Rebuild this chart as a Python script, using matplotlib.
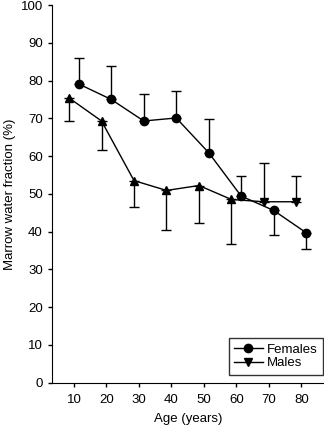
import numpy as np
import matplotlib.pyplot as plt

plt.rcParams['font.family'] = ['Liberation Sans', 'DejaVu Sans']

# data
age_f = [11.5, 21.5, 31.5, 41.5, 51.5, 61.5, 71.5, 81.5]
water_f = [79.1, 75.0, 69.3, 70.1, 60.9, 49.4, 45.6, 39.7]
err_f_lo = [0, 0, 0, 0, 0, 0, 6.4, 4.4]
err_f_hi = [7.0, 9.0, 7.1, 7.2, 8.9, 5.2, 0, 0]

age_m = [8.5, 18.5, 28.5, 38.5, 48.5, 58.5, 68.5, 78.5]
water_m = [75.4, 69.3, 53.5, 50.9, 52.2, 48.5, 47.9, 47.9]
err_m_lo = [6.1, 7.8, 7.1, 10.6, 10.0, 11.9, 0, 0]
err_m_hi = [0, 0, 0, 0, 0, 0, 10.2, 6.9]

fig = plt.figure(figsize=(3.24, 4.26), dpi=100)
ax = fig.add_axes([0.160, 0.102, 0.84, 0.886])

age_m = np.array(age_m)
water_m = np.array(water_m)

# error bars (one-sided)
ax.errorbar(age_f, water_f, yerr=[err_f_lo, err_f_hi], fmt='none', ecolor='black',
            elinewidth=1, capsize=3.5, capthick=1)
ax.errorbar(age_m, water_m, yerr=[err_m_lo, err_m_hi], fmt='none', ecolor='black',
            elinewidth=1, capsize=3.5, capthick=1)

ax.plot(age_f, water_f, color='black', lw=1, marker='o', ms=6, label='Females')
ax.plot(age_m, water_m, color='black', lw=1)
ax.plot(age_m[:6], water_m[:6], ls='none', color='black', marker='^', ms=6)
ax.plot(age_m[6:], water_m[6:], ls='none', color='black', marker='v', ms=6)
ax.plot([], [], color='black', lw=1, marker='v', ms=6, label='Males')

ax.set_xlim(3.2, 87)
ax.set_ylim(0, 100)
ax.set_xticks(range(10, 90, 10))
ax.set_yticks(range(0, 110, 10))
ax.spines['top'].set_visible(False)
ax.spines['right'].set_visible(False)
ax.tick_params(labelsize=9.5, length=3, width=1)
ax.tick_params(axis='x', pad=5)
ax.set_xlabel('Age (years)', fontsize=9.5, labelpad=5)
ax.set_ylabel('Marrow water fraction (%)', fontsize=9.5, labelpad=3)

leg = ax.legend(loc='lower right', bbox_to_anchor=(0.996, 0.021), fontsize=9.5,
                frameon=True, fancybox=False, edgecolor='black', borderpad=0.4,
                labelspacing=0.1, handlelength=2.2, handletextpad=0.3,
                borderaxespad=0)
leg.get_frame().set_linewidth(1)

fig.savefig('out.png', dpi=100)
